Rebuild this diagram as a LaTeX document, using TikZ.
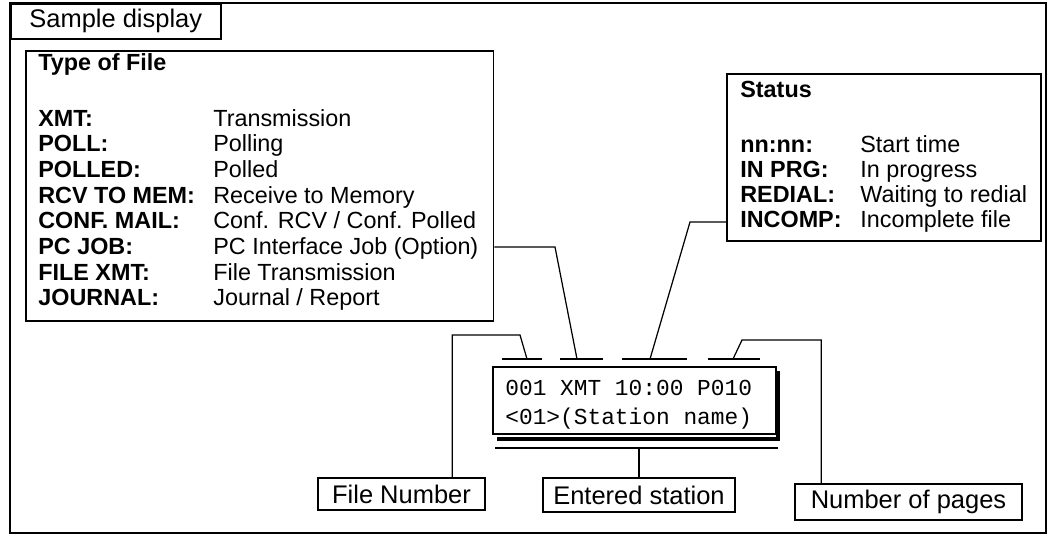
\documentclass[tikz,border=0pt]{standalone}
\usepackage{fontspec}
\setmainfont{Liberation Sans}
\setmonofont{Liberation Mono}
\usetikzlibrary{positioning, calc}

\begin{document}
\begin{tikzpicture}[x=0.02cm, y=-0.02cm,
    frameline/.style={line width=0.9pt},
    txt/.style={inner sep=0pt, anchor=base west, font=\fontsize{13.3}{14.6}\selectfont},
    keytxt/.style={txt, font=\fontsize{13.3}{14.6}\selectfont\bfseries},
    tag/.style={draw, frameline, inner sep=0pt, font=\fontsize{14.5}{16}\selectfont},
    lead/.style={line width=0.7pt},
    bar/.style={line width=1pt}]
    \useasboundingbox (0,0) rectangle (1050,542);

    % Frame and title tag
    \draw[frameline] (10,3) rectangle (1046,533);
    \node[tag, anchor=north west, minimum width=4.2cm, minimum height=0.7cm] (sample) at (10,3) {Sample display};

    % Type of File box
    \node[draw, frameline, anchor=north west, minimum width=9.36cm, minimum height=5.4cm] (typebox) at (25,50) {};
    \node[keytxt] (typetitle) at (38,70) {Type of File};
    \foreach \k/\v [count=\i] in {XMT:/Transmission, POLL:/Polling, POLLED:/Polled,
        {RCV TO MEM:}/{Receive to Memory}, {CONF. MAIL:}/{Conf. RCV / Conf. Polled},
        {PC JOB:}/{PC Interface Job (Option)}, {FILE XMT:}/{File Transmission},
        JOURNAL:/{Journal / Report}} {
        \node[keytxt] (tk\i) at (38,{126+25.7*(\i-1)}) {\k};
        \node[txt] (tv\i) at (213,{126+25.7*(\i-1)}) {\v};
    }

    % Status box
    \node[draw, frameline, anchor=north west, minimum width=6.28cm, minimum height=3.34cm] (statbox) at (726,73) {};
    \node[keytxt] (stattitle) at (740,97) {Status};
    \foreach \k/\v [count=\i] in {nn:nn:/{Start time}, {IN PRG:}/{In progress},
        REDIAL:/{Waiting to redial}, INCOMP:/{Incomplete file}} {
        \node[keytxt] (sk\i) at (740,{152+25*(\i-1)}) {\k};
        \node[txt] (sv\i) at (860,{152+25*(\i-1)}) {\v};
    }

    % Display with shadow
    \draw[line width=2.6pt] (497,439) -- (778,439) -- (778,371);
    \node[draw, frameline, fill=white, anchor=north west, minimum width=5.66cm, minimum height=1.34cm] (disp) at (492,366) {};
    \node[txt, font=\fontsize{13}{14}\ttfamily] (line1) at (505,395) {001 XMT 10:00 P010};
    \node[txt, font=\fontsize{13}{14}\ttfamily] (line2) at (505,424) {<01>(Station name)};
    \draw[lead] (495,448) coordinate (underw) -- (778,448) coordinate (undere);

    % Bars over the fields
    \foreach \a/\b [count=\i] in {502/542, 560/603, 622/687, 708/760}
        \draw[bar] (\a,359) -- (\b,359);
    \coordinate (tip1) at (527,359);
    \coordinate (tip2) at (577,359);
    \coordinate (tip3) at (650,359);
    \coordinate (tip4) at (733,359);

    % Bottom tags
    \node[tag, minimum width=3.34cm, minimum height=0.64cm] (fnum) at (401.5,494) {File Number};
    \node[tag, minimum width=3.84cm, minimum height=0.68cm] (ent) at (639,495) {Entered station};
    \node[tag, minimum width=4.54cm, minimum height=0.72cm] (npag) at (908.5,502) {Number of pages};

    % Leader lines
    \draw[lead] ($(typebox.north east)+(0,197)$) -- (555,247) -- (tip2);
    \draw[lead] ($(statbox.north west)+(0,149)$) -- (690,222) -- (tip3);
    \draw[lead] ($(fnum.north west)+(135,0)$) |- (520,335) -- (tip1);
    \draw[lead] ($(npag.north west)+(27,0)$) |- (742,340) -- (tip4);
    \draw[lead] (ent.north) -- (ent.north |- underw);
\end{tikzpicture}
\end{document}
